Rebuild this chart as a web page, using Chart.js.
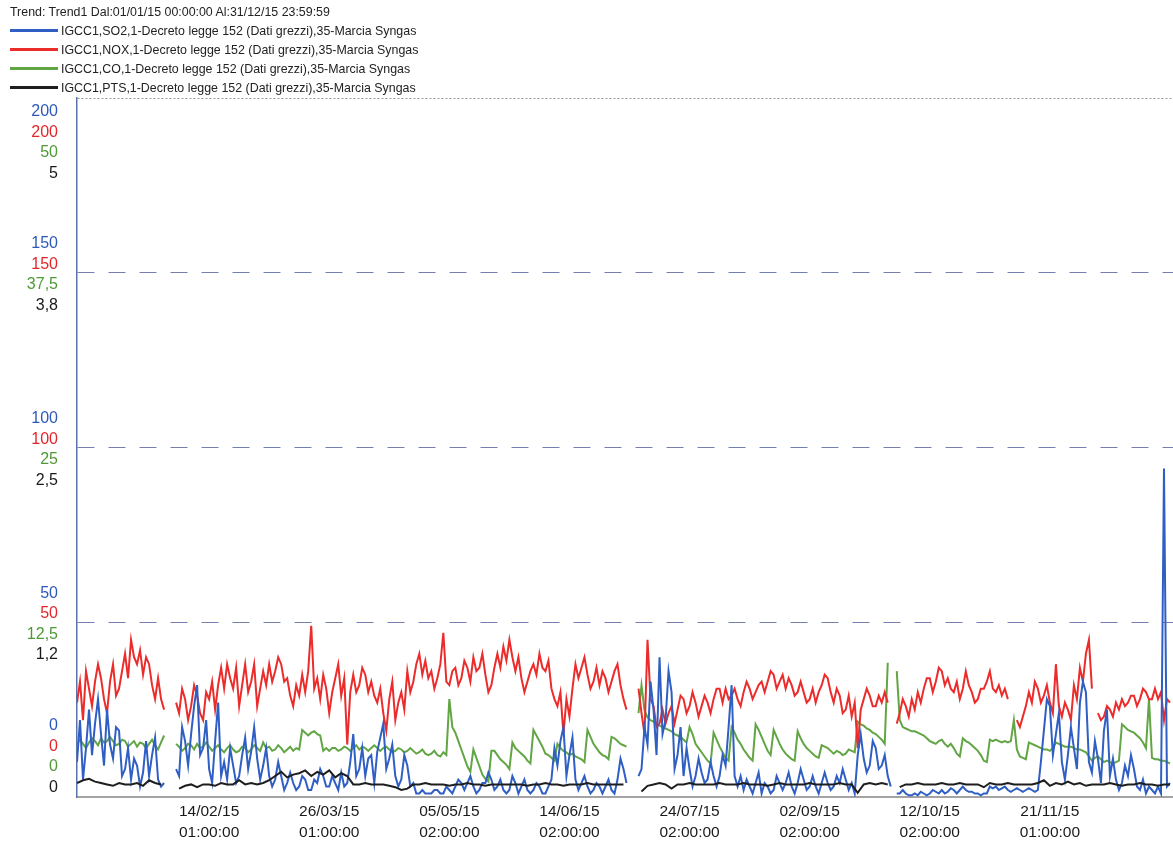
<!DOCTYPE html>
<html>
<head>
<meta charset="utf-8">
<title>Trend1</title>
<script src="https://cdn.jsdelivr.net/npm/chart.js@4.4.0/dist/chart.umd.min.js"></script>
<style>
  html, body { margin: 0; padding: 0; background: #fff; overflow: hidden; }
  #wrap { position: relative; width: 1173px; height: 841px; }
  #chart { position: absolute; left: 0; top: 0; }
  .hdr { position: absolute; left: 10px; height: 19px; line-height: 19px; white-space: nowrap;
         font-family: 'Liberation Sans', Arial, sans-serif; font-size: 12.4px; color: #222; }
  .sw { display: inline-block; width: 48px; height: 3px; vertical-align: middle; margin-right: 3px; position: relative; top: -1px; }
</style>
</head>
<body>
<div id="wrap">
  <canvas id="chart" width="1173" height="841"></canvas>
  <div id="head"></div>
</div>
<script>
const titleText = 'Trend: Trend1 Dal:01/01/15 00:00:00 Al:31/12/15 23:59:59';
const seriesNames = [
  'IGCC1,SO2,1-Decreto legge 152 (Dati grezzi),35-Marcia Syngas',
  'IGCC1,NOX,1-Decreto legge 152 (Dati grezzi),35-Marcia Syngas',
  'IGCC1,CO,1-Decreto legge 152 (Dati grezzi),35-Marcia Syngas',
  'IGCC1,PTS,1-Decreto legge 152 (Dati grezzi),35-Marcia Syngas'
];
const seriesColors = ['#2f5fc4', '#ec2b2b', '#62a544', '#1e1e1e'];
const labelColors = ['#2d5ab8', '#e3262b', '#4f9a37', '#1a1a1a'];

// x axis: days since 01/01/15
const tickDays = [44, 84, 124, 164, 204, 244, 284, 324];
const tickDates = ['14/02/15', '26/03/15', '05/05/15', '14/06/15', '24/07/15', '02/09/15', '12/10/15', '21/11/15'];
const tickTimes = ['01:00:00', '01:00:00', '02:00:00', '02:00:00', '02:00:00', '02:00:00', '02:00:00', '01:00:00'];

// y axis ticks, one column per series
const so2Ticks = [0, 50, 100, 150, 200];
const so2TickLabels = ['0', '50', '100', '150', '200'];
const noxTickLabels = ['0', '50', '100', '150', '200'];
const coTickLabels = ['0', '12,5', '25', '37,5', '50'];
const ptsTickLabels = ['0', '1,2', '2,5', '3,8', '5'];

const dailyStep = 1; // SO2, NOX, CO read once a day
const ptsStep = 2;   // PTS read every 2 days

const so2 = [
  10,22,5,14,25,12,21,28,18,9,25,15,11,20,19,6,8,14,5,11,
  9,3,7,16,6,12,17,5,3,4,null,null,null,8,6,20,16,9,18,26,
  32,12,14,22,8,4,16,27,6,10,5,14,9,4,6,12,17,8,13,20,
  11,5,9,14,6,3,5,10,6,2,4,7,4,2,3,6,5,2,2,5,
  4,8,6,3,3,6,4,2,7,3,4,10,18,6,8,14,6,11,12,4,
  13,17,21,8,11,15,6,3,5,12,9,3,4,1,1,2,1,1,1,2,
  2,1,1,3,2,1,3,5,4,2,4,6,3,1,2,4,4,7,5,2,
  3,5,2,1,2,6,4,1,3,5,2,1,2,4,3,1,1,3,5,14,
  9,16,20,6,12,17,5,2,4,6,3,1,2,4,3,1,3,5,2,1,
  5,11,8,4,null,null,null,6,8,20,15,33,25,12,40,18,22,36,30,8,
  12,20,6,14,8,3,6,11,7,4,5,10,6,3,6,12,9,20,32,6,
  3,6,2,5,3,1,4,7,1,4,3,1,2,6,4,2,4,7,3,1,
  4,8,5,2,3,6,3,1,4,7,4,2,3,6,4,8,5,2,4,1,
  12,18,11,7,9,16,14,8,9,12,6,3,null,1,1,2,1,0.5,0.5,1,
  0.5,1.5,1,0.5,1,2,1.5,1,2,1,1.5,2.5,2,1,2,3,2,1.5,1.5,1,
  1,0.5,1,1,3,2.5,3,2,2.5,3,2,1.5,2,2.5,2,1.5,2,2.5,2,1.5,
  2,10,19,28,26,12,18,24,10,5,12,20,14,8,27,33,30,10,7,16,
  11,4,19,25,6,11,5,2,4,9,6,12,8,3,2,5,1,3,2,1,
  3,1,94,3,4];

const nox = [
  27,33,22,36,31,26,33,38,34,28,24,33,38,29,31,36,41,34,45,40,
  38,42,35,40,38,32,28,34,28,25,null,null,null,27,24,31,28,22,26,32,
  29,24,22,30,28,33,25,32,37,31,38,34,31,37,26,32,38,30,33,38,
  26,31,36,32,38,33,36,40,38,33,34,29,26,32,29,35,30,36,49,31,
  34,28,35,31,24,30,34,38,29,34,15,30,35,30,32,37,35,30,33,29,
  27,31,24,19,28,33,22,27,30,25,36,30,33,38,41,35,39,34,36,31,
  34,38,47,33,32,36,37,32,34,39,37,33,40,36,37,41,35,30,32,37,
  41,37,43,39,45,40,36,40,34,30,33,36,38,35,41,37,36,39,31,28,
  26,30,18,28,23,31,38,34,37,40,35,31,33,37,32,36,34,30,33,36,
  38,32,28,25,null,null,null,31,24,18,45,28,26,20,21,25,21,24,26,21,
  25,29,28,24,26,30,27,23,26,29,27,24,28,31,31,27,31,28,29,31,
  28,26,30,33,31,28,30,32,33,30,33,36,35,31,33,35,31,34,32,29,
  30,33,30,27,28,31,27,30,32,35,34,30,27,31,29,24,25,29,23,27,
  14,25,28,31,29,26,26,29,27,30,27,null,null,21,24,28,26,23,28,25,
  30,27,31,34,34,30,33,37,36,32,34,31,30,33,28,31,36,32,30,27,
  28,31,31,33,36,31,30,32,29,31,28,null,null,22,20,23,26,30,27,33,
  31,27,29,32,27,24,38,26,23,27,25,22,32,28,37,33,41,45,31,null,
  24,22,23,26,25,23,27,25,28,26,27,29,29,26,28,31,30,28,28,31,
  28,30,22,28,27];

const co = [
  3.8,4.1,3.8,3.5,3.9,4.2,4.0,3.7,4.2,3.9,4.0,4.3,4.0,3.7,3.8,4.1,4.0,3.6,3.8,4.0,
  3.6,3.9,3.8,3.5,3.8,4.1,3.7,3.4,3.9,4.4,null,null,null,3.8,3.6,3.3,3.5,3.8,3.7,3.4,
  3.8,3.5,3.6,3.9,3.6,3.3,3.5,3.7,3.4,3.2,3.5,3.7,3.4,3.2,3.3,3.6,3.5,3.2,3.4,3.7,
  3.5,3.3,3.9,3.5,3.6,3.3,3.4,3.7,3.5,3.2,3.4,3.6,3.3,3.5,3.4,4.8,4.6,4.4,4.6,4.7,
  4.5,4.4,3.3,3.5,3.3,3.5,3.5,3.3,3.4,3.6,3.5,3.3,3.5,3.7,3.4,3.6,3.5,3.3,3.5,3.7,
  3.5,3.3,3.5,3.6,3.4,3.2,3.3,3.5,3.4,3.2,3.3,3.5,3.3,3.1,3.2,3.4,3.1,3.0,3.1,3.3,
  3.0,2.9,3.2,3.0,7.0,5.0,4.6,4.0,3.4,2.8,2.2,1.8,3.4,2.8,2.2,1.6,1.3,1.1,3.3,3.3,
  3.0,2.7,2.5,2.3,2.0,3.9,3.5,3.3,3.1,2.9,2.6,2.4,4.8,4.4,4.0,3.6,3.1,3.0,2.8,2.6,
  3.8,3.5,3.3,3.2,3.0,3.1,2.9,2.8,2.7,2.5,4.8,4.3,3.8,3.5,3.2,3.0,2.9,2.7,4.3,4.2,
  4.0,3.8,3.7,3.6,null,null,null,6.0,8.0,6.2,5.7,5.5,5.4,5.2,5.1,5.0,4.9,4.8,4.7,4.5,
  4.4,4.3,4.1,3.9,5.0,4.5,3.8,3.5,3.2,2.9,2.6,2.4,4.6,4.1,3.6,3.2,2.8,2.6,5.0,4.6,
  4.1,3.8,3.4,3.1,2.8,2.6,5.2,4.8,4.3,3.8,3.3,3.0,4.8,4.3,3.8,3.4,3.1,2.9,2.7,2.6,
  4.7,4.2,3.8,3.5,3.3,3.1,2.9,2.8,3.7,3.6,3.5,3.3,3.1,3.3,3.2,3.0,3.1,3.4,3.3,3.2,
  5.4,5.2,5.1,4.9,4.8,4.6,4.5,4.3,4.1,3.8,9.6,null,null,9.0,5.5,5.0,4.9,4.8,4.7,4.7,
  4.6,4.5,4.4,4.2,4.0,3.9,3.8,4.0,4.1,3.8,3.6,3.8,3.5,3.1,2.9,4.2,4.0,3.9,3.7,3.5,
  3.3,3.0,2.6,2.5,4.1,4.0,4.1,4.0,3.9,4.0,3.9,4.0,5.5,3.4,2.9,2.8,2.7,3.9,3.8,3.7,
  3.6,3.5,3.4,3.4,3.3,3.5,3.9,3.8,3.7,3.6,3.6,3.6,3.5,3.4,3.4,3.3,3.2,2.9,2.6,2.8,
  2.9,2.7,2.5,2.6,2.5,2.4,2.5,2.6,5.2,5.0,4.8,4.7,4.6,4.4,4.2,3.9,3.5,7.0,2.8,2.7,
  2.7,2.6,2.6,2.5,2.4];

const pts = [0.1,0.12,0.13,0.11,0.1,0.09,0.08,0.1,0.09,0.09,0.1,0.08,0.12,0.1,0.09,null,null,0.06,0.08,0.09,0.07,0.09,0.09,0.08,0.1,0.09,0.09,0.12,0.09,0.1,0.09,0.1,0.12,0.15,0.18,0.14,0.16,
  0.17,0.19,0.15,0.18,0.16,0.19,0.14,0.17,0.15,0.09,0.09,0.1,0.09,0.09,0.09,0.08,0.07,0.05,0.06,0.09,0.09,0.1,0.09,0.09,0.09,0.08,0.09,0.09,0.1,0.09,0.09,0.08,0.09,0.09,0.09,0.09,
  0.09,0.09,0.08,0.09,0.09,0.1,0.09,0.09,0.08,0.09,0.09,0.09,0.1,0.09,0.09,0.09,0.09,0.09,0.09,null,null,0.04,0.08,0.09,0.1,0.09,0.06,0.09,0.09,0.1,0.09,0.09,0.09,0.09,0.1,0.09,
  0.09,0.09,0.1,0.09,0.09,0.09,0.08,0.09,0.1,0.09,0.09,0.09,0.09,0.1,0.09,0.09,0.09,0.09,0.1,0.09,0.09,0.03,0.09,0.1,0.09,0.1,0.09,null,0.07,0.09,0.09,0.1,0.09,0.09,0.09,0.1,0.09,
  0.09,0.1,0.09,0.09,0.09,0.07,0.1,0.09,0.09,0.1,0.09,0.09,0.09,0.09,0.1,0.12,0.08,0.1,0.09,0.11,0.09,0.1,0.08,0.09,0.09,0.09,0.1,0.09,0.08,0.09,0.09,0.1,0.09,0.09,0.08,0.09,0.09];

// header: title + legend rows
const head = document.getElementById('head');
const titleRow = document.createElement('div');
titleRow.className = 'hdr';
titleRow.style.top = '3px';
titleRow.textContent = titleText;
head.appendChild(titleRow);
seriesNames.forEach((name, i) => {
  const row = document.createElement('div');
  row.className = 'hdr';
  row.style.top = (22 + i * 19) + 'px';
  const sw = document.createElement('span');
  sw.className = 'sw';
  sw.style.background = seriesColors[i];
  row.appendChild(sw);
  row.appendChild(document.createTextNode(name));
  head.appendChild(row);
});

function toPoints(values, step) {
  return values.map((v, i) => ({ x: i * step, y: v }));
}

// four coloured tick labels stacked at each y gridline
const stackedTickLabels = {
  id: 'stackedTickLabels',
  afterDraw(chart) {
    const ctx = chart.ctx;
    const yScale = chart.scales.y;
    const area = chart.chartArea;
    const lineH = 20.5;
    const half = lineH * 2 + 1.5;
    const columns = [so2TickLabels, noxTickLabels, coTickLabels, ptsTickLabels];
    ctx.save();
    ctx.font = '16px "Liberation Sans", Arial, sans-serif';
    ctx.textAlign = 'right';
    ctx.textBaseline = 'middle';
    so2Ticks.forEach((v, k) => {
      let c = yScale.getPixelForValue(v);
      c = Math.min(Math.max(c, area.top + half), area.bottom - half);
      columns.forEach((col, j) => {
        ctx.fillStyle = labelColors[j];
        ctx.fillText(col[k], 58, c + (j - 1.5) * lineH + 2);
      });
    });
    ctx.restore();
  }
};

const lineStyle = { borderWidth: 2, pointRadius: 0, tension: 0, spanGaps: false, fill: false };

new Chart(document.getElementById('chart'), {
  type: 'line',
  data: {
    datasets: [
      { label: seriesNames[0], data: toPoints(so2, dailyStep), borderColor: seriesColors[0], yAxisID: 'y', order: 1, ...lineStyle },
      { label: seriesNames[1], data: toPoints(nox, dailyStep), borderColor: seriesColors[1], yAxisID: 'yNox', order: 2, ...lineStyle },
      { label: seriesNames[2], data: toPoints(co, dailyStep), borderColor: seriesColors[2], yAxisID: 'yCo', order: 3, ...lineStyle },
      { label: seriesNames[3], data: toPoints(pts, ptsStep), borderColor: seriesColors[3], yAxisID: 'yPts', order: 0, ...lineStyle }
    ]
  },
  options: {
    responsive: false,
    animation: false,
    events: [],
    layout: { padding: { top: 98, left: 0, right: 0, bottom: 0 } },
    plugins: { legend: { display: false }, tooltip: { enabled: false } },
    scales: {
      x: {
        type: 'linear',
        min: 0,
        max: 365,
        afterBuildTicks: scale => { scale.ticks = tickDays.map(d => ({ value: d })); },
        afterFit: scale => { scale.height = 44; },
        grid: { display: false, drawTicks: false },
        border: { color: '#a3a3a3', width: 2 },
        ticks: {
          autoSkip: false,
          maxRotation: 0,
          padding: 4,
          color: '#1a1a1a',
          font: { family: 'Liberation Sans', size: 15.5, lineHeight: 1.35 },
          callback: (value, index) => [tickDates[index], tickTimes[index]]
        }
      },
      y: {
        position: 'left',
        min: 0,
        max: 200,
        afterBuildTicks: scale => { scale.ticks = so2Ticks.map(v => ({ value: v })); },
        afterFit: scale => { scale.width = 77; },
        ticks: { display: false },
        grid: {
          drawTicks: false,
          lineWidth: 1,
          color: ctx => {
            if (!ctx.tick) return '#7580b0';
            if (ctx.tick.value === 200) return '#9a9a9a';
            if (ctx.tick.value === 0) return 'rgba(0,0,0,0)';
            return '#7580b0';
          }
        },
        border: {
          color: '#5a73a8',
          width: 1.5,
          dash: ctx => (ctx.tick && ctx.tick.value === 200) ? [2, 2] : [17, 14]
        }
      },
      yNox: { display: false, min: 0, max: 200 },
      yCo: { display: false, min: 0, max: 50 },
      yPts: { display: false, min: 0, max: 5 }
    }
  },
  plugins: [stackedTickLabels]
});
</script>
</body>
</html>
